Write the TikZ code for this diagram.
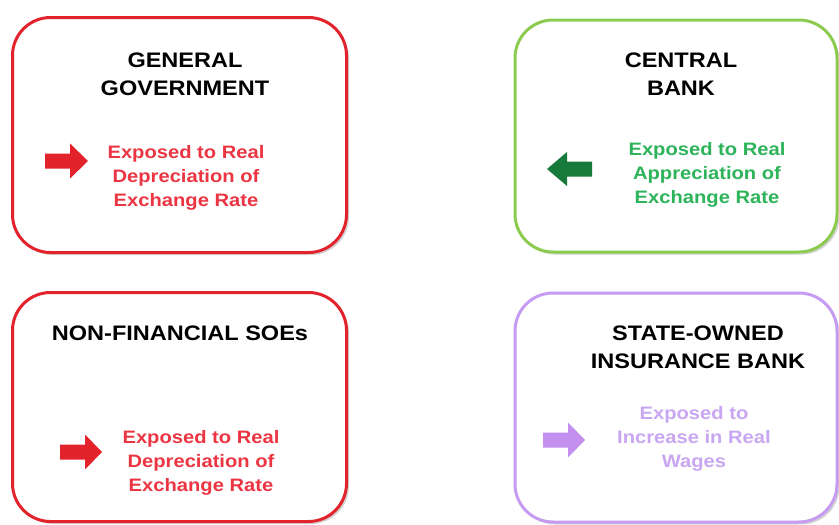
\documentclass[tikz,border=0pt]{standalone}
\usepackage{fontspec}
\setmainfont{Liberation Sans}[FakeStretch=1.12]
\usetikzlibrary{shadows}
\definecolor{bred}{HTML}{E3232C}
\definecolor{tred}{HTML}{EC3542}
\definecolor{bgreen}{HTML}{8CCB50}
\definecolor{tgreen}{HTML}{2DB35A}
\definecolor{agreen}{HTML}{17793A}
\definecolor{bpurple}{HTML}{C69CF2}
\definecolor{tpurple}{HTML}{C9A6F2}
\definecolor{apurple}{HTML}{C390F0}
\tikzset{
  panel/.style={draw=#1, line width=3pt, rounded corners=38pt, fill=white,
    drop shadow={shadow xshift=2.5pt, shadow yshift=-2.5pt, opacity=0.35, fill=gray}},
  head/.style={font=\fontsize{21}{28}\selectfont\bfseries, align=center, text=black, inner sep=0pt},
  body/.style={font=\fontsize{18}{24}\selectfont\bfseries, align=center, text=#1, inner sep=0pt},
}
\newcommand{\rarrow}[4]{% x0 x1 y color
  \fill[#4] (#1,#3-7.5) -- (#1+25,#3-7.5) -- (#1+25,#3-17.5) -- (#2,#3) -- (#1+25,#3+17.5) -- (#1+25,#3+7.5) -- (#1,#3+7.5) -- cycle;}
\newcommand{\larrow}[4]{% x0 x1 y color ; head at x0
  \fill[#4] (#2,#3-7.5) -- (#1+20,#3-7.5) -- (#1+20,#3-17) -- (#1,#3) -- (#1+20,#3+17) -- (#1+20,#3+7.5) -- (#2,#3+7.5) -- cycle;}
\begin{document}
\begin{tikzpicture}[x=1pt,y=-1pt]
\useasboundingbox (0,0) rectangle (839,525);
% panels
\node[panel=bred, minimum width=334pt, minimum height=235pt] (gg) at (179.5,135) {};
\node[panel=bgreen, minimum width=322pt, minimum height=232pt] (cb) at (676,136) {};
\node[panel=bred, minimum width=334pt, minimum height=229pt] (nf) at (179.5,407) {};
\node[panel=bpurple, minimum width=322pt, minimum height=229pt] (so) at (676,407.5) {};
% headings
\node[head] (ggh) at (185,74) {GENERAL\\GOVERNMENT};
\node[head] (cbh) at (681,74) {CENTRAL\\BANK};
\node[head] (nfh) at (180,333) {NON-FINANCIAL SOEs};
\node[head] (soh) at (698,347) {STATE-OWNED\\INSURANCE BANK};
% bodies
\node[body=tred] (ggb) at (186,178) {Exposed to Real\\Depreciation of\\Exchange Rate};
\node[body=tgreen] (cbb) at (707,175) {Exposed to Real\\Appreciation of\\Exchange Rate};
\node[body=tred] (nfb) at (201,463) {Exposed to Real\\Depreciation of\\Exchange Rate};
\node[body=tpurple] (sob) at (694,439) {Exposed to\\Increase in Real\\Wages};
% arrows
\rarrow{45}{88}{161}{bred}
\larrow{547}{592}{169}{agreen}
\rarrow{60}{102}{452}{bred}
\rarrow{543}{585}{440}{apurple}
\end{tikzpicture}
\end{document}
